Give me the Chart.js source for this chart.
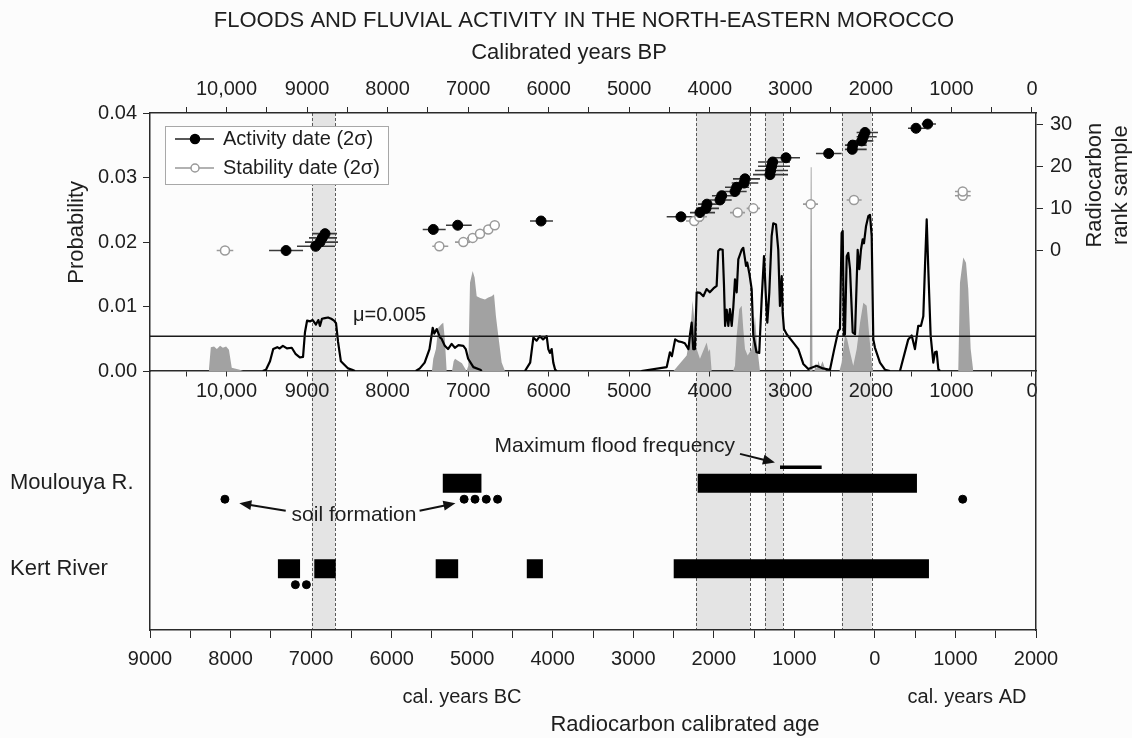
<!DOCTYPE html>
<html>
<head>
<meta charset="utf-8">
<title>Floods and fluvial activity in north-eastern Morocco</title>
<script src="https://cdn.jsdelivr.net/npm/chart.js@4.4.1/dist/chart.umd.min.js"></script>
<style>
  html, body { margin: 0; padding: 0; background: #fcfcfc; }
  #wrap { width: 1132px; height: 738px; }
</style>
</head>
<body>
<div id="wrap"><canvas id="floodChart" width="1132" height="738"></canvas></div>
<script>
/* ---- data (x = calendar year, negative = BC) ---- */
const chartTitle = 'FLOODS AND FLUVIAL ACTIVITY IN THE NORTH-EASTERN MOROCCO';

const calTicks = [-9000, -8500, -8000, -7500, -7000, -6500, -6000, -5500, -5000, -4500, -4000,
  -3500, -3000, -2500, -2000, -1500, -1000, -500, 0, 500, 1000, 1500, 2000];
const bpTicks = [10500, 10000, 9500, 9000, 8500, 8000, 7500, 7000, 6500, 6000, 5500, 5000,
  4500, 4000, 3500, 3000, 2500, 2000, 1500, 1000, 500, 0];
const probTicks = [0, 0.01, 0.02, 0.03, 0.04];
const rankTicks = [0, 10, 20, 30];

// activity dates (black) with 2 sigma ranges
const activityAge  = [-7311, -6943, -6889, -6861, -6827, -5483, -5180, -4145, -2408, -2172, -2097, -2085, -1923, -1902, -1737, -1716,
  -1625, -1613, -1303, -1294, -1282, -1269, -1104, -574, -281, -276, -164, -144, -123, 510, 655];
const activityLow  = [-7522, -7175, -7076, -7026, -6989, -5614, -5325, -4282, -2585, -2296, -2221, -2196, -2048, -2023, -1886, -1861,
  -1778, -1762, -1513, -1489, -1451, -1451, -1265, -732, -372, -372, -309, -227, -227, 411, 581];
const activityHigh = [-7100, -6703, -6666, -6678, -6678, -5329, -5006, -3997, -2234, -1985, -1936, -1911, -1778, -1750, -1592, -1563,
  -1448, -1427, -1079, -1079, -1054, -1054, -930, -413, -102, -102, -20, 22, 38, 622, 758];
const activityRank = [0, 1, 2, 3, 4, 5, 6, 7, 8, 9, 10, 11, 12, 13, 14, 15, 16, 17, 18, 19, 20, 21, 22, 23, 24, 25, 26, 27, 28, 29, 30];

// stability dates (open)
const stabilityAge  = [-8069, -5408, -5110, -4994, -4903, -4800, -4720, -2243, -2180, -1704, -1510, -797, -260, 1090, 1090];
const stabilityLow  = [-8172, -5495, -5213, -5064, -4965, -4866, -4791, -2345, -2283, -1799, -1592, -893, -351, 994, 994];
const stabilityHigh = [-7966, -5297, -5027, -4928, -4841, -4742, -4655, -2147, -2085, -1613, -1427, -707, -165, 1189, 1189];
const stabilityRank = [0, 1, 2, 3, 4, 5, 6, 7, 8, 9, 10, 11, 12, 13, 14];

// summed probability of activity dates, null = gap
const activityProb = [
  [-7600, 0], [-7560, 0.0002], [-7510, 0.0015], [-7470, 0.0034], [-7420, 0.0037], [-7390, 0.0035], [-7350, 0.0039],
  [-7300, 0.0035], [-7240, 0.0036], [-7190, 0.0026], [-7140, 0.0021], [-7100, 0.0022], [-7076, 0.006], [-7050, 0.0078],
  [-7010, 0.0077], [-6980, 0.0079], [-6940, 0.0072], [-6910, 0.0079], [-6890, 0.007], [-6865, 0.0081], [-6830, 0.0082],
  [-6790, 0.0083], [-6750, 0.0081], [-6715, 0.0078], [-6690, 0.0074], [-6665, 0.0045], [-6630, 0.0015], [-6590, 0.001],
  [-6540, 0.0004], [-6490, 0.0002], [-6455, 0],
  null,
  [-5700, 0], [-5650, 0.0004], [-5590, 0.0013], [-5530, 0.0034], [-5490, 0.0067], [-5470, 0.0058], [-5440, 0.0065],
  [-5400, 0.0052], [-5380, 0.005], [-5340, 0.0039], [-5300, 0.0034], [-5255, 0.0042], [-5215, 0.0036], [-5170, 0.004],
  [-5110, 0.0039], [-5080, 0.0034], [-5050, 0.0019], [-4985, 0.0006], [-4900, 0.0002], [-4880, 0],
  null,
  [-4345, 0], [-4280, 0.0013], [-4240, 0.0052], [-4200, 0.0047], [-4160, 0.0054], [-4120, 0.0049], [-4075, 0.0054],
  [-4055, 0.0034], [-4035, 0.0028], [-4013, 0.0034], [-3993, 0.0013], [-3970, 0.0002], [-3950, 0],
  null,
  [-2900, 0], [-2585, 0.0006], [-2545, 0.0029], [-2520, 0.0023], [-2480, 0.0049], [-2440, 0.0046], [-2400, 0.0045],
  [-2360, 0.0043], [-2315, 0.0034], [-2295, 0.0057], [-2275, 0.0075], [-2255, 0.0034], [-2235, 0.0034], [-2213, 0.0122],
  [-2170, 0.0121], [-2130, 0.0116], [-2090, 0.0127], [-2050, 0.0122], [-2005, 0.0128], [-1965, 0.0132], [-1945, 0.0186],
  [-1925, 0.0189], [-1890, 0.0188], [-1874, 0.0134], [-1860, 0.007], [-1840, 0.0095], [-1820, 0.007], [-1800, 0.0096],
  [-1778, 0.007], [-1758, 0.0099], [-1737, 0.0142], [-1716, 0.0122], [-1696, 0.0173], [-1654, 0.0188], [-1634, 0.0191],
  [-1600, 0.0163], [-1585, 0.0168], [-1560, 0.0152], [-1530, 0.0127], [-1510, 0.0055], [-1470, 0.0029], [-1436, 0.0028],
  [-1406, 0.0111], [-1377, 0.0178], [-1352, 0.0111], [-1336, 0.0075], [-1311, 0.0122], [-1282, 0.0209], [-1262, 0.0229],
  [-1228, 0.0227], [-1200, 0.0188], [-1179, 0.0101], [-1157, 0.0147], [-1145, 0.009], [-1129, 0.0065], [-1095, 0.0057],
  [-1013, 0.0044], [-951, 0.0034], [-889, 0.0011], [-827, 0.0003], [-723, 0.0008], [-645, 0.0004], [-558, 0.0002],
  [-508, 0.0032], [-455, 0.0062], [-434, 0.0065], [-413, 0.0214], [-400, 0.0217], [-384, 0.0055], [-372, 0.0057],
  [-350, 0.0178], [-331, 0.0183], [-309, 0.0158], [-276, 0.006], [-247, 0.0057], [-214, 0.0188], [-194, 0.0158],
  [-173, 0.0188], [-152, 0.0204], [-136, 0.0198], [-111, 0.0224], [-82, 0.024], [-61, 0.0242], [-40, 0.0209],
  [-20, 0.0049], [1, 0.0036], [63, 0.0013], [125, 0.0002], [187, 0],
  null,
  [311, 0], [414, 0.0049], [457, 0.0055], [497, 0.0034], [538, 0.007], [572, 0.007], [601, 0.0085], [622, 0.0163],
  [643, 0.0235], [663, 0.0157], [692, 0.0055], [725, 0.0013], [746, 0.0029], [767, 0.003], [787, 0.0003], [808, 0]
];

// summed probability of stability dates (grey area)
const stabilityProb = [
  [-8270, 0], [-8245, 0.0037], [-8205, 0.0038], [-8170, 0.0034], [-8130, 0.0039], [-8095, 0.0036], [-8055, 0.0038],
  [-8020, 0.0033], [-7985, 0.0005], [-7885, 0.0002], [-7845, 0],
  [-5500, 0], [-5483, 0.0019], [-5450, 0.0034], [-5421, 0.0067], [-5379, 0.0073], [-5359, 0.0075], [-5338, 0.0047],
  [-5317, 0], [-5250, 0], [-5230, 0.0015], [-5213, 0.0019], [-5176, 0.0016], [-5127, 0.0012], [-5070, 0],
  [-5048, 0.0008], [-5027, 0.0137], [-4994, 0.0155], [-4970, 0.0145], [-4944, 0.0116], [-4900, 0.0113], [-4841, 0.0111],
  [-4800, 0.0114], [-4758, 0.0116], [-4729, 0.0119], [-4705, 0.0085], [-4676, 0.0055], [-4634, 0.0013], [-4593, 0],
  [-2500, 0], [-2461, 0.0006], [-2337, 0.0024], [-2296, 0.0055], [-2263, 0.0109], [-2246, 0.0085], [-2213, 0.0034],
  [-2172, 0.0019], [-2089, 0.0044], [-2065, 0.003], [-2048, 0.0034], [-2027, 0],
  [-1760, 0], [-1737, 0.0008], [-1716, 0.0055], [-1684, 0.0096], [-1654, 0.0101], [-1634, 0.0065], [-1613, 0.0034],
  [-1580, 0.0024], [-1530, 0.0034], [-1489, 0.0085], [-1464, 0.004], [-1427, 0],
  [-808, 0], [-797, 0.0316], [-786, 0.0316], [-775, 0], [-750, 0], [-740, 0.0012], [-720, 0.0004], [-700, 0.0016],
  [-680, 0.0006], [-650, 0.0015], [-610, 0],
  [-440, 0], [-413, 0.0013], [-372, 0.0055], [-345, 0.005], [-318, 0.0034], [-269, 0.0008], [-226, 0.0034],
  [-185, 0.0075], [-144, 0.0106], [-102, 0.0101], [-70, 0.0055], [-40, 0.0013], [-24, 0],
  [1035, 0], [1056, 0.0137], [1080, 0.016], [1097, 0.0176], [1131, 0.0168], [1159, 0.0127], [1189, 0.0034], [1221, 0]
];
const meanProb = 0.0054;

// periods of maximum activity (grey bands)
const bands = [[-6990, -6700], [-2220, -1550], [-1365, -1140], [-410, -40]];

// lower panel
const rivers = ['Moulouya R.', 'Kert River'];
const moulouyaPeriods = [[-5365, -4885], [-2200, 522]];
const moulouyaSoils = [-8070, -5100, -4965, -4825, -4685, 1090];
const kertPeriods = [[-7412, -7137], [-6960, -6694], [-5453, -5174], [-4322, -4122], [-2498, 671]];
const kertSoils = [-7195, -7058];
const maxFloodPeriod = [-1178, -661];

/* ---- look ---- */
const font = "'Liberation Sans', Arial, Helvetica, sans-serif";
const axisColor = '#2a2a2a';
const textColor = '#1e1e1e';
const riverRow = [1.7, 0.71];   // yLow positions of the two rivers
const soilOffset = 0.185;
Chart.defaults.font.family = font;
Chart.defaults.color = textColor;

function bpLabel(v) {
  const b = 1950 - v;
  if (b % 1000 !== 0) return '';
  return b >= 10000 ? '10,000' : String(b);
}
function withGaps(pairs) {
  const out = [];
  let lastX = -9000;
  pairs.forEach(p => {
    if (p === null) { out.push({ x: lastX + 1, y: null }); return; }
    out.push({ x: p[0], y: p[1] });
    lastX = p[0];
  });
  return out;
}
function rangeBars(lows, highs, rows) {
  const out = [];
  lows.forEach((lo, i) => {
    out.push({ x: lo, y: rows[i] }, { x: highs[i], y: rows[i] }, { x: highs[i], y: null });
  });
  return out;
}
function periodBars(periods, row) {
  const out = [];
  periods.forEach(p => out.push({ x: p[0], y: row }, { x: p[1], y: row }, { x: p[1], y: null }));
  return out;
}

function drawText(ctx, str, x, y, size, align) {
  ctx.font = size + 'px ' + font;
  ctx.fillStyle = textColor;
  ctx.textAlign = align || 'center';
  ctx.textBaseline = 'middle';
  ctx.fillText(str, x, y);
}
function drawArrow(ctx, x0, y0, x1, y1) {
  const ang = Math.atan2(y1 - y0, x1 - x0);
  const len = 12, half = 5;
  ctx.strokeStyle = '#111';
  ctx.fillStyle = '#111';
  ctx.lineWidth = 2;
  ctx.beginPath();
  ctx.moveTo(x0, y0);
  ctx.lineTo(x1 - Math.cos(ang) * len * 0.8, y1 - Math.sin(ang) * len * 0.8);
  ctx.stroke();
  ctx.beginPath();
  ctx.moveTo(x1, y1);
  ctx.lineTo(x1 - Math.cos(ang) * len - Math.sin(ang) * half, y1 - Math.sin(ang) * len + Math.cos(ang) * half);
  ctx.lineTo(x1 - Math.cos(ang) * len + Math.sin(ang) * half, y1 - Math.sin(ang) * len - Math.cos(ang) * half);
  ctx.closePath();
  ctx.fill();
}

// grey bands under everything
const bandsPlugin = {
  id: 'bands',
  beforeDraw(chart) {
    const { ctx, chartArea: a, scales: { x } } = chart;
    ctx.save();
    bands.forEach(b => {
      const x0 = x.getPixelForValue(b[0]);
      const x1 = x.getPixelForValue(b[1]);
      ctx.fillStyle = '#e4e4e4';
      ctx.fillRect(x0, a.top, x1 - x0, a.bottom - a.top);
      ctx.strokeStyle = '#5a5a5a';
      ctx.lineWidth = 1;
      ctx.setLineDash([3, 2]);
      [x0, x1].forEach(px => {
        ctx.beginPath();
        ctx.moveTo(Math.round(px) + 0.5, a.top);
        ctx.lineTo(Math.round(px) + 0.5, a.bottom);
        ctx.stroke();
      });
    });
    ctx.restore();
  }
};

// titles, legend and notes
const notesPlugin = {
  id: 'notes',
  afterDraw(chart) {
    const { ctx, chartArea: a, scales: { x, y, yLow, yRank } } = chart;
    const mid = (a.left + a.right) / 2;
    ctx.save();

    drawText(ctx, chartTitle, mid - 9, 21, 22);
    drawText(ctx, 'Calibrated years BP', mid - 24, 53, 22);
    drawText(ctx, 'cal. years BC', x.getPixelForValue(-5126), a.bottom + 67, 20);
    drawText(ctx, 'cal. years AD', x.getPixelForValue(1143), a.bottom + 67, 20);
    drawText(ctx, 'Radiocarbon calibrated age', mid + 92, a.bottom + 95, 22);

    ctx.save();
    ctx.translate(a.left - 73, y.getPixelForValue(0.0215));
    ctx.rotate(-Math.PI / 2);
    drawText(ctx, 'Probability', 0, 0, 22);
    ctx.restore();

    ctx.save();
    ctx.translate(a.right + 71, yRank.getPixelForValue(15.5));
    ctx.rotate(-Math.PI / 2);
    drawText(ctx, 'Radiocarbon', 0, -12, 22);
    drawText(ctx, 'rank sample', 0, 14, 22);
    ctx.restore();

    drawText(ctx, '\u03bc=0.005', x.getPixelForValue(-6480), y.getPixelForValue(0.0086), 20, 'left');

    drawText(ctx, 'Maximum flood frequency', x.getPixelForValue(-1737), yLow.getPixelForValue(2.13), 21, 'right');
    drawArrow(ctx, x.getPixelForValue(-1675), yLow.getPixelForValue(2.04), x.getPixelForValue(-1241), yLow.getPixelForValue(1.94));

    drawText(ctx, 'soil formation', x.getPixelForValue(-6467), yLow.getPixelForValue(1.326), 21);
    drawArrow(ctx, x.getPixelForValue(-7315), yLow.getPixelForValue(1.382), x.getPixelForValue(-7891), yLow.getPixelForValue(1.468));
    drawArrow(ctx, x.getPixelForValue(-5653), yLow.getPixelForValue(1.382), x.getPixelForValue(-5208), yLow.getPixelForValue(1.468));

    // legend
    const lx = a.left + 15, ly = a.top + 13;
    ctx.fillStyle = '#ffffff';
    ctx.fillRect(lx, ly, 223, 58);
    ctx.strokeStyle = '#a8a8a8';
    ctx.lineWidth = 1;
    ctx.setLineDash([]);
    ctx.strokeRect(lx + 0.5, ly + 0.5, 223, 58);
    const rows = [
      { label: chart.data.datasets[5].label, line: '#222', fill: '#000', stroke: '#000', r: 4.5 },
      { label: chart.data.datasets[7].label, line: '#999', fill: '#fff', stroke: '#999', r: 4 }
    ];
    rows.forEach((row, i) => {
      const yy = ly + 13 + i * 29;
      ctx.strokeStyle = row.line;
      ctx.lineWidth = 1.5;
      ctx.beginPath();
      ctx.moveTo(lx + 10, yy);
      ctx.lineTo(lx + 49, yy);
      ctx.stroke();
      ctx.beginPath();
      ctx.arc(lx + 30, yy, row.r, 0, Math.PI * 2);
      ctx.fillStyle = row.fill;
      ctx.fill();
      ctx.strokeStyle = row.stroke;
      ctx.stroke();
      drawText(ctx, row.label, lx + 58, yy, 20, 'left');
    });
    ctx.restore();
  }
};

const tickFont = { size: 20 };

const ctx = document.getElementById('floodChart').getContext('2d');
const chart = new Chart(ctx, {
  type: 'line',
  data: {
    datasets: [
      { // 0
        label: 'Stability probability',
        data: stabilityProb.map(p => ({ x: p[0], y: p[1] })),
        yAxisID: 'y',
        fill: 'origin',
        backgroundColor: '#a2a2a2',
        borderWidth: 0,
        pointRadius: 0,
        order: 6
      },
      { // 1
        label: 'Activity probability',
        data: withGaps(activityProb),
        yAxisID: 'y',
        borderColor: '#000',
        borderWidth: 2.2,
        borderJoinStyle: 'round',
        pointRadius: 0,
        spanGaps: false,
        order: 5
      },
      { // 2
        label: 'mean',
        data: [{ x: -9000, y: meanProb }, { x: 2000, y: meanProb }],
        yAxisID: 'y',
        borderColor: '#1a1a1a',
        borderWidth: 1.5,
        pointRadius: 0,
        order: 4
      },
      { // 3
        label: 'Stability 2 sigma',
        data: rangeBars(stabilityLow, stabilityHigh, stabilityRank),
        yAxisID: 'yRank',
        borderColor: '#9a9a9a',
        borderWidth: 1.6,
        pointRadius: 0,
        spanGaps: false,
        order: 3
      },
      { // 4
        label: 'Activity 2 sigma',
        data: rangeBars(activityLow, activityHigh, activityRank),
        yAxisID: 'yRank',
        borderColor: '#3a3a3a',
        borderWidth: 1.6,
        pointRadius: 0,
        spanGaps: false,
        order: 2
      },
      { // 5
        label: 'Activity date (2\u03c3)',
        data: activityAge.map((v, i) => ({ x: v, y: activityRank[i] })),
        yAxisID: 'yRank',
        showLine: false,
        pointRadius: 5,
        pointBackgroundColor: '#000',
        pointBorderColor: '#000',
        pointBorderWidth: 1,
        order: 0
      },
      { // 6
        label: 'max flood',
        data: [{ x: maxFloodPeriod[0], y: riverRow[0] + soilOffset }, { x: maxFloodPeriod[1], y: riverRow[0] + soilOffset }],
        yAxisID: 'yLow',
        borderColor: '#000',
        borderWidth: 3.5,
        borderCapStyle: 'butt',
        pointRadius: 0,
        order: 1
      },
      { // 7
        label: 'Stability date (2\u03c3)',
        data: stabilityAge.map((v, i) => ({ x: v, y: stabilityRank[i] })),
        yAxisID: 'yRank',
        showLine: false,
        pointRadius: 4.5,
        pointBackgroundColor: '#fff',
        pointBorderColor: '#9a9a9a',
        pointBorderWidth: 1.5,
        order: 1
      },
      { // 8
        label: rivers[0],
        data: periodBars(moulouyaPeriods, riverRow[0]),
        yAxisID: 'yLow',
        borderColor: '#000',
        borderWidth: 19,
        borderCapStyle: 'butt',
        pointRadius: 0,
        spanGaps: false,
        order: 1
      },
      { // 9
        label: rivers[1],
        data: periodBars(kertPeriods, riverRow[1]),
        yAxisID: 'yLow',
        borderColor: '#000',
        borderWidth: 19,
        borderCapStyle: 'butt',
        pointRadius: 0,
        spanGaps: false,
        order: 1
      },
      { // 10
        label: 'soils',
        data: moulouyaSoils.map(v => ({ x: v, y: riverRow[0] - soilOffset }))
          .concat(kertSoils.map(v => ({ x: v, y: riverRow[1] - soilOffset }))),
        yAxisID: 'yLow',
        showLine: false,
        pointRadius: 4,
        pointBackgroundColor: '#000',
        pointBorderColor: '#000',
        order: 1
      }
    ]
  },
  options: {
    responsive: false,
    animation: false,
    events: [],
    devicePixelRatio: 1,
    layout: { padding: { left: 10, right: 0, top: 0, bottom: 0 } },
    plugins: { legend: { display: false }, tooltip: { enabled: false } },
    scales: {
      x: {
        type: 'linear', position: 'bottom', min: -9000, max: 2000,
        afterBuildTicks: s => { s.ticks = calTicks.map(v => ({ value: v })); },
        afterFit: s => { s.height = 108; },
        ticks: {
          autoSkip: false, maxRotation: 0, minRotation: 0, padding: 9, font: tickFont, color: textColor,
          callback: v => (v % 1000 === 0 ? String(Math.abs(v)) : '')
        },
        grid: { drawOnChartArea: false, tickLength: 8, tickColor: axisColor },
        border: { color: axisColor, width: 1.5 }
      },
      xTop: {
        type: 'linear', axis: 'x', position: 'top', min: -9000, max: 2000,
        afterBuildTicks: s => { s.ticks = bpTicks.map(b => ({ value: 1950 - b })); },
        afterFit: s => { s.height = 113; },
        ticks: { autoSkip: false, maxRotation: 0, minRotation: 0, padding: 6, font: tickFont, color: textColor, callback: bpLabel },
        grid: { drawOnChartArea: false, tickLength: 6, tickColor: axisColor },
        border: { color: axisColor, width: 1.5 }
      },
      xMid: {
        type: 'linear', axis: 'x', position: { y: 0 }, min: -9000, max: 2000,
        afterBuildTicks: s => { s.ticks = bpTicks.map(b => ({ value: 1950 - b })); },
        ticks: { autoSkip: false, maxRotation: 0, minRotation: 0, padding: 3, font: tickFont, color: textColor, callback: bpLabel },
        grid: { drawOnChartArea: false, tickLength: 5, tickColor: axisColor },
        border: { color: axisColor, width: 1.5 }
      },
      y: {
        type: 'linear', position: 'left', stack: 'left', stackWeight: 258, weight: 1, min: 0, max: 0.04,
        afterBuildTicks: s => { s.ticks = probTicks.map(v => ({ value: v })); },
        afterFit: s => { s.width = 140; },
        ticks: { padding: 6, font: tickFont, color: textColor, callback: v => v.toFixed(2) },
        grid: { drawOnChartArea: false, tickLength: 7, tickColor: axisColor },
        border: { color: axisColor, width: 1.5 }
      },
      yLow: {
        type: 'linear', position: 'left', stack: 'left', stackWeight: 259, weight: 0, min: 0, max: 3,
        afterBuildTicks: s => { s.ticks = riverRow.map(v => ({ value: v })); },
        afterFit: s => { s.width = 140; },
        ticks: { crossAlign: 'far', padding: 0, font: { size: 22 }, color: textColor, callback: (v, i) => rivers[i] },
        grid: { drawOnChartArea: false, drawTicks: false },
        border: { color: axisColor, width: 1.5 }
      },
      yRank: {
        type: 'linear', position: 'right', min: -90, max: 32.62,
        afterBuildTicks: s => { s.ticks = rankTicks.map(v => ({ value: v })); },
        afterFit: s => { s.width = 96; },
        ticks: { padding: 7, font: tickFont, color: textColor },
        grid: { drawOnChartArea: false, tickLength: 7, tickColor: axisColor },
        border: { color: axisColor, width: 1.5 }
      }
    }
  },
  plugins: [bandsPlugin, notesPlugin]
});
</script>
</body>
</html>
